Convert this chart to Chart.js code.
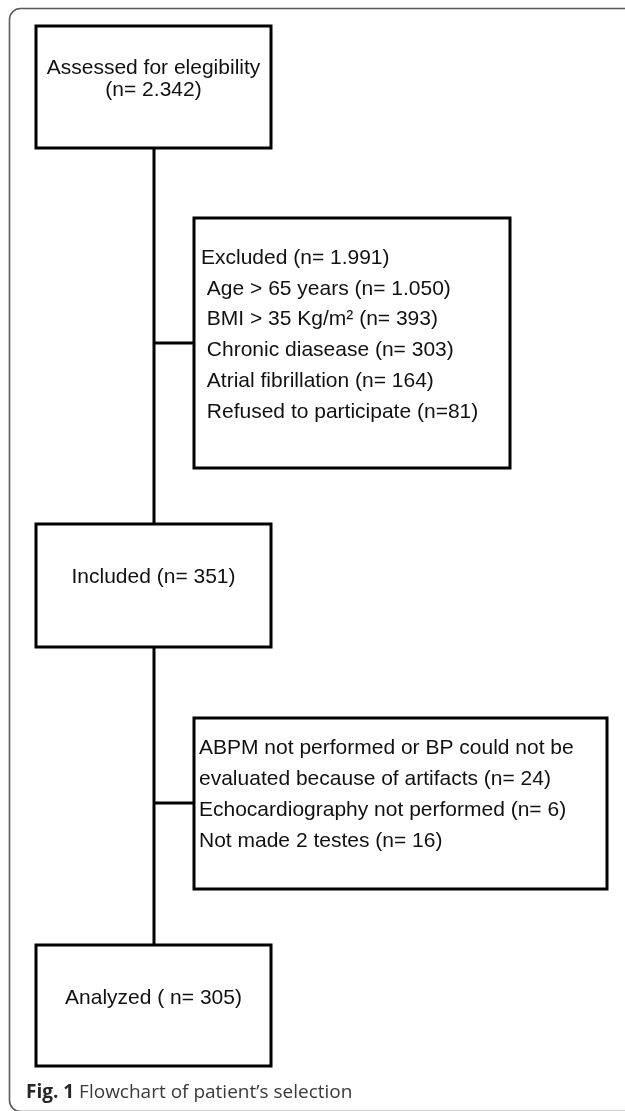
<!DOCTYPE html>
<html>
<head>
<meta charset="utf-8">
<script src="https://cdn.jsdelivr.net/npm/chart.js@4"></script>
<style>
  html, body { margin: 0; padding: 0; background: #ffffff; }
  #wrap { width: 625px; height: 1111px; position: relative; }
</style>
</head>
<body>
<div id="wrap"><canvas id="c"></canvas></div>
<script>
// ---- content (text of the flowchart) ----
const stageLines = [
  ["Assessed for elegibility", "(n= 2.342)"],
  ["Included (n= 351)"],
  ["Analyzed ( n= 305)"]
];
const exclusion1Lines = [
  "Excluded (n= 1.991)",
  " Age > 65 years (n= 1.050)",
  " BMI > 35 Kg/m\u00B2 (n= 393)",
  " Chronic diasease (n= 303)",
  " Atrial fibrillation (n= 164)",
  " Refused to participate (n=81)"
];
const exclusion2Lines = [
  "ABPM not performed or BP could not be",
  "evaluated because of artifacts (n= 24)",
  "Echocardiography not performed (n= 6)",
  "Not made 2 testes (n= 16)"
];
const captionBold = "Fig. 1";
const captionText = " Flowchart of patient\u2019s selection";

// ---- layout (in scale units, scales span the page) ----
const layout = {
  stageBoxes: [
    { l: 36, r: 271, t: 26, b: 148, textY: [68, 90] },
    { l: 36, r: 271, t: 524, b: 647, textY: [577] },
    { l: 36, r: 271, t: 945, b: 1066, textY: [998] }
  ],
  sideBoxes: [
    { l: 194, r: 510, t: 218, b: 468, connY: 343, textX: 201, textY0: 258, lineH: 30.8 },
    { l: 194, r: 607, t: 718, b: 889, connY: 803, textX: 199, textY0: 748, lineH: 31 }
  ],
  trunkX: 154,
  caption: { x: 26, y: 1093 }
};

function rectPath(b) {
  return [
    { x: b.l, y: b.t }, { x: b.r, y: b.t }, { x: b.r, y: b.b },
    { x: b.l, y: b.b }, { x: b.l, y: b.t }
  ];
}

const lineStyle = {
  type: 'line',
  showLine: true,
  borderColor: '#000000',
  borderWidth: 3,
  pointRadius: 0,
  fill: false,
  tension: 0,
  borderJoinStyle: 'miter',
  borderCapStyle: 'square',
  clip: false
};

const datasets = [];
layout.stageBoxes.forEach(b => datasets.push(Object.assign({}, lineStyle, { data: rectPath(b) })));
layout.sideBoxes.forEach(b => datasets.push(Object.assign({}, lineStyle, { data: rectPath(b) })));
// trunk connectors between stages
for (let i = 0; i < layout.stageBoxes.length - 1; i++) {
  const a = layout.stageBoxes[i], c = layout.stageBoxes[i + 1];
  datasets.push(Object.assign({}, lineStyle, { borderCapStyle: 'butt',
    data: [{ x: layout.trunkX, y: a.b }, { x: layout.trunkX, y: c.t }] }));
}
// side connectors
layout.sideBoxes.forEach(b => datasets.push(Object.assign({}, lineStyle, { borderCapStyle: 'butt',
  data: [{ x: layout.trunkX, y: b.connY }, { x: b.l, y: b.connY }] })));

const textPlugin = {
  id: 'flowText',
  beforeDatasetsDraw(chart) {
    const ctx = chart.ctx, xs = chart.scales.x, ys = chart.scales.y;
    // outer rounded frame
    ctx.save();
    ctx.strokeStyle = '#5a5a5a';
    ctx.lineWidth = 1.6;
    ctx.beginPath();
    const fl = xs.getPixelForValue(9.5), ft = ys.getPixelForValue(8.5);
    const fr = xs.getPixelForValue(640), fb = ys.getPixelForValue(1111.5);
    ctx.roundRect(fl, ft, fr - fl, fb - ft, 11);
    ctx.stroke();
    ctx.restore();
  },
  afterDatasetsDraw(chart) {
    const ctx = chart.ctx, xs = chart.scales.x, ys = chart.scales.y;
    ctx.save();
    ctx.fillStyle = '#111111';
    ctx.font = '21px "Liberation Sans", Arial, sans-serif';
    ctx.textBaseline = 'middle';
    // stage boxes (centered)
    ctx.textAlign = 'center';
    layout.stageBoxes.forEach((b, i) => {
      const cx = xs.getPixelForValue((b.l + b.r) / 2);
      stageLines[i].forEach((t, j) => ctx.fillText(t, cx, ys.getPixelForValue(b.textY[j])));
    });
    // side boxes (left aligned)
    ctx.textAlign = 'left';
    [exclusion1Lines, exclusion2Lines].forEach((lines, k) => {
      const b = layout.sideBoxes[k];
      lines.forEach((t, j) => ctx.fillText(t, xs.getPixelForValue(b.textX), ys.getPixelForValue(b.textY0 + j * b.lineH)));
    });
    // caption
    const cx0 = xs.getPixelForValue(layout.caption.x), cy = ys.getPixelForValue(layout.caption.y);
    ctx.fillStyle = '#262626';
    ctx.font = 'bold 19px "Open Sans", sans-serif';
    ctx.fillText(captionBold, cx0, cy);
    const w = ctx.measureText(captionBold).width;
    ctx.fillStyle = '#3a3a3a';
    ctx.font = '19px "Open Sans", sans-serif';
    ctx.fillText(captionText, cx0 + w, cy);
    ctx.restore();
  }
};

new Chart(document.getElementById('c'), {
  type: 'scatter',
  data: { datasets },
  options: {
    responsive: true,
    maintainAspectRatio: false,
    animation: false,
    layout: { padding: 0 },
    plugins: { legend: { display: false }, tooltip: { enabled: false } },
    events: [],
    scales: {
      x: { type: 'linear', min: 0, max: 625, display: false },
      y: { type: 'linear', min: 0, max: 1111, reverse: true, display: false }
    }
  },
  plugins: [textPlugin]
});
</script>
</body>
</html>
